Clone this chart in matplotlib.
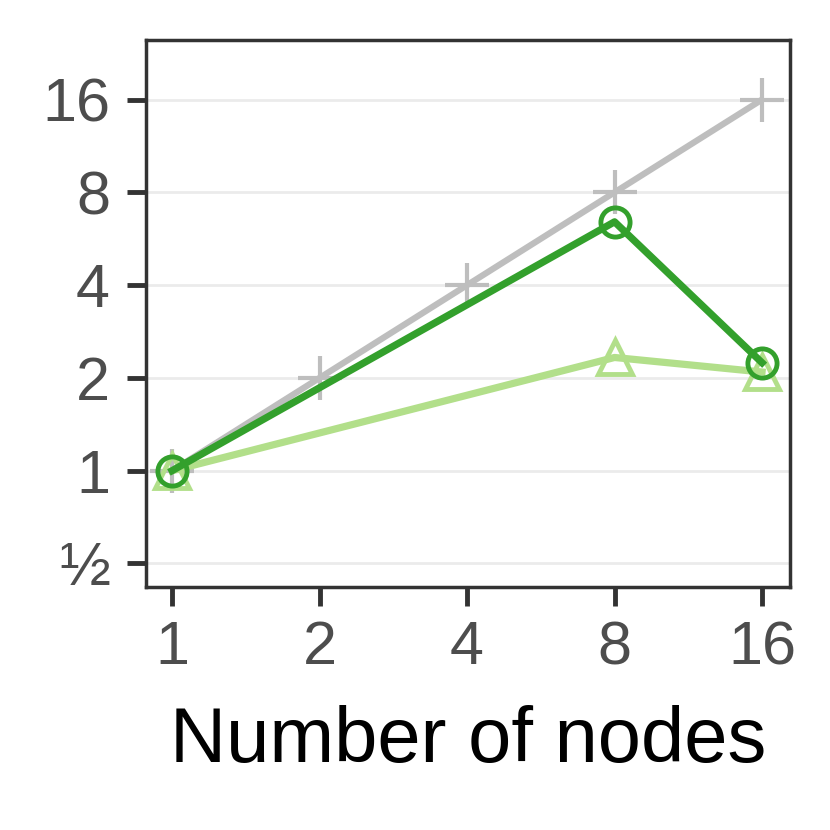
import matplotlib
matplotlib.use("Agg")
import matplotlib.pyplot as plt

plt.rcParams['font.family'] = ['Liberation Sans', 'DejaVu Sans']

nodes = [1, 2, 4, 8, 16]
ideal = [1, 2, 4, 8, 16]
dark_x = [1, 8, 16]
dark_y = [1, 6.42, 2.24]
light_x = [1, 8, 16]
light_y = [1, 2.33, 2.09]
yticks = [0.5, 1, 2, 4, 8, 16]
yticklabels = ['½', '1', '2', '4', '8', '16']
xticklabels = ['1', '2', '4', '8', '16']

fig = plt.figure(figsize=(8.3, 8.3), dpi=100)
ax = fig.add_axes([0.176, 0.293, 0.776, 0.659])
ax.set_xscale('log', base=2)
ax.set_yscale('log', base=2)

ax.plot(nodes, ideal, color='#BEBEBE', lw=4.5, marker='+', markersize=31,
        markeredgewidth=3, zorder=3, solid_capstyle='butt')
ax.plot(light_x, light_y, color='#B2DF8A', lw=5.2, marker='^', markersize=24,
        markerfacecolor='none', markeredgewidth=3.5, zorder=4)
ax.plot(dark_x, dark_y, color='#33A02C', lw=5.2, marker='o', markersize=21,
        markerfacecolor='none', markeredgewidth=3.5, zorder=5)

ax.set_xlim(0.885, 18.26)
ax.set_ylim(0.42, 25)
ax.set_xticks(nodes)
ax.set_xticklabels(xticklabels)
ax.set_yticks(yticks)
ax.set_yticklabels(yticklabels)
ax.minorticks_off()
ax.yaxis.grid(True, color='#EBEBEB', lw=2)
ax.xaxis.grid(False)
ax.set_axisbelow(True)
for s in ax.spines.values():
    s.set_linewidth(2.5)
    s.set_color('#333333')
ax.tick_params(axis='both', length=14, width=3.5, color='#333333',
               labelsize=44, labelcolor='#4D4D4D')
ax.tick_params(axis='y', pad=12)
ax.tick_params(axis='x', pad=10)
ax.set_xlabel('Number of nodes', fontsize=56, color='black', labelpad=20)

fig.savefig('out.png', dpi=100)
